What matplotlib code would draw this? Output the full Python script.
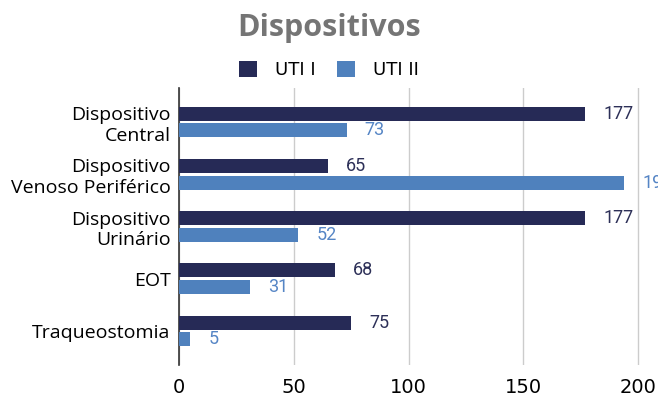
import matplotlib.pyplot as plt
import numpy as np

# device counts per ICU
categorias = ['Dispositivo\nCentral', 'Dispositivo\nVenoso Periférico',
              'Dispositivo\nUrinário', 'EOT', 'Traqueostomia']
uti_1 = [177, 65, 177, 68, 75]
uti_2 = [73, 194, 52, 31, 5]
x_ticks = [0, 50, 100, 150, 200]

cor_1 = '#262a56'
cor_2 = '#4f81bd'

fig = plt.figure(figsize=(6.58, 3.94), dpi=100)
ax = fig.add_axes([0.272, 0.0736, 0.728, 0.703])

y = np.arange(len(categorias))
h = 0.27
off = 0.16
b1 = ax.barh(y - off, uti_1, height=h, color=cor_1, label='UTI I', zorder=3)
b2 = ax.barh(y + off, uti_2, height=h, color=cor_2, label='UTI II', zorder=3)

# value labels to the right of each bar
for bars, vals, cor in [(b1, uti_1, '#2d3058'), (b2, uti_2, '#5585c5')]:
    for bar, v in zip(bars, vals):
        ax.annotate(str(v), (v, bar.get_y() + bar.get_height() / 2),
                    xytext=(13, 0), textcoords='offset points',
                    ha='left', va='center', fontsize=13, color=cor,
                    family=['Roboto', 'DejaVu Sans'], annotation_clip=False)

ax.set_xlim(0, 208.7)
ax.set_ylim(4.65, -0.65)
ax.set_xticks(x_ticks)
ax.set_yticks(y)
ax.set_yticklabels(categorias, fontsize=14, family=['Open Sans', 'DejaVu Sans'],
                   linespacing=1.2)
ax.tick_params(axis='both', length=0)
ax.tick_params(axis='x', labelsize=14, pad=9)
ax.tick_params(axis='y', pad=6)
ax.grid(axis='x', color='#cccccc', linewidth=1, zorder=0)
for s in ['top', 'right', 'bottom']:
    ax.spines[s].set_visible(False)
ax.spines['left'].set_color('#333333')
ax.spines['left'].set_linewidth(1.2)

fig.text(0.5, 0.93, 'Dispositivos', ha='center', va='center', fontsize=22,
         fontweight='bold', color='#757575', family=['Open Sans', 'DejaVu Sans'])
fig.legend(handles=[b1, b2], loc='center', bbox_to_anchor=(0.5, 0.822), ncol=2,
           frameon=False, fontsize=13, handlelength=1.0, handleheight=1.0,
           columnspacing=1.2, handletextpad=1.0)

plt.savefig('out.png', dpi=100)
